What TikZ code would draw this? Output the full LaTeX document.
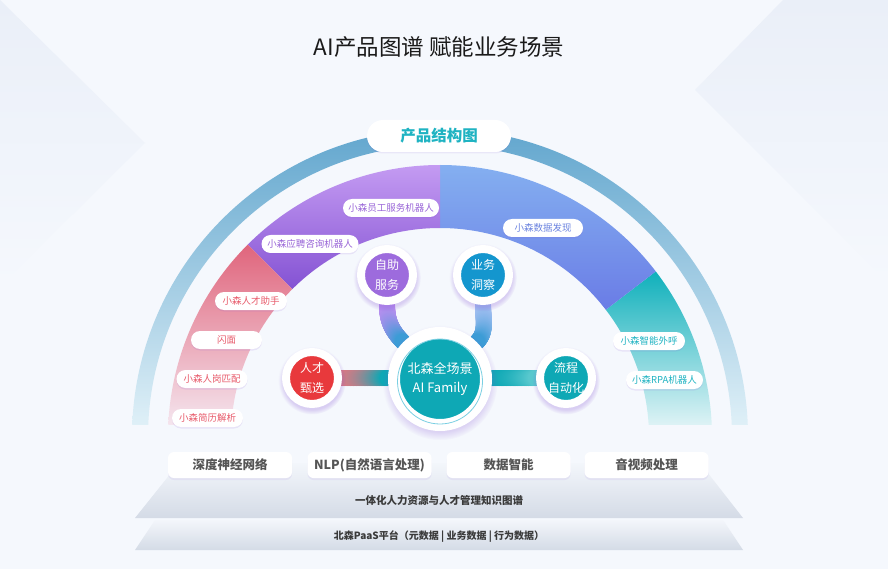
\documentclass[tikz,border=0pt]{standalone}
\usepackage{fontspec}
\setmainfont{Noto Sans CJK SC}
\usetikzlibrary{shadows,decorations.markings}

\definecolor{bgcol}{HTML}{F5F8FD}
\definecolor{decocol}{HTML}{EAEFF8}
\definecolor{titlecol}{HTML}{1A1A1A}
\definecolor{ringtop}{HTML}{62A6CE}
\definecolor{ringbot}{HTML}{E4F3F9}
\definecolor{pinktop}{HTML}{E0657C}
\definecolor{pinkbot}{HTML}{F6EEF6}
\definecolor{purptop}{HTML}{C49BF2}
\definecolor{purpbot}{HTML}{8452D3}
\definecolor{bluetop}{HTML}{84AFF0}
\definecolor{bluebot}{HTML}{6A7CE6}
\definecolor{tealtop}{HTML}{0FB0BB}
\definecolor{tealbot}{HTML}{EEF8FA}
\definecolor{purptxt}{HTML}{9A66D8}
\definecolor{pinktxt}{HTML}{E85A6A}
\definecolor{bluetxt}{HTML}{6C84E0}
\definecolor{tealtxt}{HTML}{1FB3C2}
\definecolor{zizhucol}{HTML}{9D6BDD}
\definecolor{yewucol}{HTML}{1496CE}
\definecolor{rencaicol}{HTML}{E8393C}
\definecolor{corecol}{HTML}{0EA8B5}
\definecolor{coreline}{HTML}{7ACFE2}
\definecolor{tubepurp}{HTML}{BC8EF0}
\definecolor{tubeblue}{HTML}{A6C0F2}
\definecolor{tubedeep}{HTML}{3C9CD6}
\definecolor{tubepink}{HTML}{D97A84}
\definecolor{tubelite}{HTML}{58C8CE}
\definecolor{layertop}{HTML}{F3F6FB}
\definecolor{layerbot}{HTML}{D4DBE6}
\definecolor{boxtxt}{HTML}{555555}
\definecolor{layertxt}{HTML}{3A3A3A}

\pgfdeclarelayer{back}
\pgfdeclarelayer{tubes}
\pgfsetlayers{back,tubes,main}

\begin{document}
\begin{tikzpicture}[x=1pt, y=1pt,
    pill/.style={fill=white, rounded corners=9pt, minimum height=18pt, inner sep=0pt,
        font=\fontsize{9.5}{10}\selectfont,
        drop shadow={shadow xshift=0pt, shadow yshift=-1.5pt, fill=purpbot, opacity=.12}},
    bubble/.style={circle, draw=white, line width=8pt, minimum size=52pt, inner sep=0pt,
        text=white, align=center, font=\fontsize{12}{20}\selectfont,
        circular drop shadow={shadow xshift=0pt, shadow yshift=-2pt, shadow scale=1.3, fill=purpbot, opacity=.25}},
    techbox/.style={fill=white, rounded corners=6pt, minimum width=124pt, minimum height=26pt,
        inner sep=0pt, text=boxtxt, font=\bfseries\fontsize{12.5}{13}\selectfont,
        drop shadow={shadow xshift=0pt, shadow yshift=-2pt, fill=purpbot, opacity=.08}},
    tube/.style 2 args={decoration={markings,
        mark=between positions 0 and 1 step 0.01 with {
            \pgfmathsetmacro\tubemix{100-100*(\pgfkeysvalueof{/pgf/decoration/mark info/distance from start}/\pgfdecoratedpathlength)^1.8}
            \fill[#1!\tubemix!#2] (0,0) circle (8pt);}},
        postaction={decorate}}
]
\useasboundingbox (0,0) rectangle (888,-569);

\begin{pgfonlayer}{back}
    \fill[bgcol] (0,0) rectangle (888,-569);
    \shade[top color=decocol, bottom color=bgcol] (0,0) -- (145,-143) -- (0,-286) -- cycle;
    \shade[top color=decocol, bottom color=bgcol] (783,0) -- (695,-90) -- (888,-283) -- (888,0) -- cycle;
\end{pgfonlayer}

\node[font=\fontsize{22.5}{24}\selectfont, text=titlecol] (title) at (439,-47) {AI产品图谱 赋能业务场景};

% arcs
\begin{scope}
    \clip (0,0) rectangle (888,-424);
    \begin{scope}[shift={(440,-437)}]
        \def\ri{209}
        \def\ro{272}
        \shade[top color=ringtop, bottom color=ringbot] (0:308) arc[start angle=0, end angle=180, radius=308]
            -- (180:292) arc[start angle=180, end angle=0, radius=292] -- cycle;
        \foreach \a/\b/\ct/\cb in {0/37.5/tealtop/tealbot, 37.5/90/bluetop/bluebot, 90/135/purptop/purpbot, 135/180/pinktop/pinkbot} {
            \shade[top color=\ct, bottom color=\cb] (\a:\ro) arc[start angle=\a, end angle=\b, radius=\ro]
                -- (\b:\ri) arc[start angle=\b, end angle=\a, radius=\ri] -- cycle;
        }
    \end{scope}
\end{scope}

\node[fill=white, rounded corners=16pt, minimum width=144pt, minimum height=32pt, inner sep=0pt,
    text=tealtxt, font=\bfseries\fontsize{15.5}{16}\selectfont,
    drop shadow={shadow xshift=0pt, shadow yshift=-1.5pt, fill=purpbot, opacity=.1}] (jiegou) at (439,-136) {产品结构图};

\foreach \i/\px/\py/\w/\c/\t in {
    1/391/208/96/purptxt/小森员工服务机器人,
    2/310/244/97/purptxt/小森应聘咨询机器人,
    3/251/301/72/pinktxt/小森人才助手,
    4/226.5/340/71/pinktxt/闪面,
    5/212/379/71/pinktxt/小森人岗匹配,
    6/207.5/418/71/pinktxt/小森简历解析,
    7/543/228/80/bluetxt/小森数据发现,
    8/649/341/72/tealtxt/小森智能外呼,
    9/664.5/380/77/tealtxt/小森RPA机器人} {
    \node[pill, minimum width=\w pt, text=\c] (pill\i) at (\px,-\py) {\t};
}

% center and satellites
\node[circle, fill=corecol, draw=white, line width=12pt, minimum size=92pt, inner sep=0pt,
    text=white, align=center, font=\fontsize{13}{19}\selectfont,
    circular drop shadow={shadow xshift=0pt, shadow yshift=-3pt, shadow scale=1.25, fill=purpbot, opacity=.22}]
    (core) at (440,-379) {北森全场景\\AI Family};
\draw[coreline, line width=0.8pt] (core.center) ++(0,-2.5) circle (42.5);

\node[bubble, fill=zizhucol] (zizhu) at (387,-275) {自助\\服务};
\node[bubble, fill=yewucol] (yewu) at (483,-275) {业务\\洞察};
\node[bubble, fill=rencaicol] (rencai) at (312,-378) {人才\\甄选};
\node[bubble, fill=corecol] (liucheng) at (566,-378) {流程\\自动化};

\begin{pgfonlayer}{tubes}
    \path[tube={tubepurp}{tubedeep}] (zizhu.south) to[out=-90, in=135] (core.135);
    \path[tube={tubeblue}{tubedeep}] (yewu.south) to[out=-90, in=45] (core.45);
    \path[tube={tubepink}{corecol}] (rencai.east) -- (core.west |- rencai.east);
    \path[tube={corecol}{tubelite}] (core.east |- liucheng.west) -- (liucheng.west);
\end{pgfonlayer}

% base layers
\shade[top color=layertop, bottom color=layerbot] (179,-463) -- (700,-463) -- (743,-518) -- (135,-518) -- cycle;
\shade[top color=layertop, bottom color=layerbot] (155,-520) -- (723,-520) -- (743,-550) -- (135,-550) -- cycle;
\node[text=layertxt, font=\bfseries\fontsize{10.5}{11}\selectfont] (graph) at (439,-500) {一体化人力资源与人才管理知识图谱};
\node[text=layertxt, font=\bfseries\fontsize{10}{11}\selectfont] (paas) at (439,-537) {北森PaaS平台（元数据 | 业务数据 | 行为数据）};

\foreach \i/\px/\t in {1/230/深度神经网络, 2/369.5/{NLP(自然语言处理)}, 3/508.5/数据智能, 4/646.5/音视频处理} {
    \node[techbox] (tech\i) at (\px,-465) {\t};
}

\end{tikzpicture}
\end{document}
